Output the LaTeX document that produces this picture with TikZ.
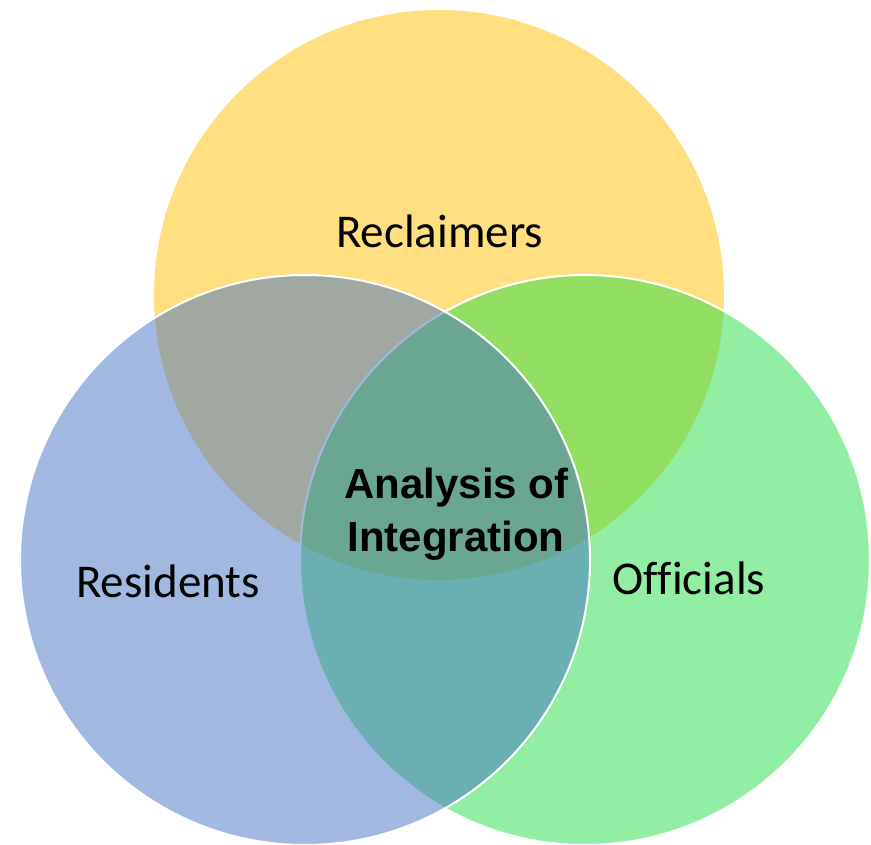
\documentclass[tikz,border=0pt]{standalone}
\usepackage{fontspec}
\setmainfont{Carlito}[Ligatures=CommonOff]
\newfontfamily\coresans{Liberation Sans}
\definecolor{setgold}{RGB}{255,192,0}
\definecolor{setgreen}{RGB}{37,221,69}
\definecolor{setblue}{RGB}{68,114,196}
\begin{document}
\begin{tikzpicture}[x=1pt,y=-1pt,
  setcircle/.style={fill opacity=0.5},
  outlined/.style={draw=white, line width=2pt},
  setlabel/.style={anchor=base, inner sep=0pt, text=black,
    font=\fontsize{47}{56}\selectfont},
  corelabel/.style={anchor=base, inner sep=0pt, text=black,
    font=\coresans\bfseries\fontsize{42}{50}\selectfont}]
\useasboundingbox (0,0) rectangle (871,845);

% the three sets, gold at the back, blue in front
\path[setcircle, fill=setgold] (439,295) circle[radius=285pt];
\path[setcircle, outlined, fill=setgreen] (585,560) circle[radius=285pt];
\path[setcircle, outlined, fill=setblue] (305,560) circle[radius=285pt];

% labels
\node[setlabel] (reclaimers) at (439.5,248) {Reclaimers};
\node[setlabel] (residents) at (168,597) {Residents};
\node[setlabel] (officials) at (689,594) {Officials};
\node[corelabel] (analysis) at (456.5,498) {Analysis of};
\node[corelabel] (integration) at (456,551) {Integration};
\end{tikzpicture}
\end{document}
